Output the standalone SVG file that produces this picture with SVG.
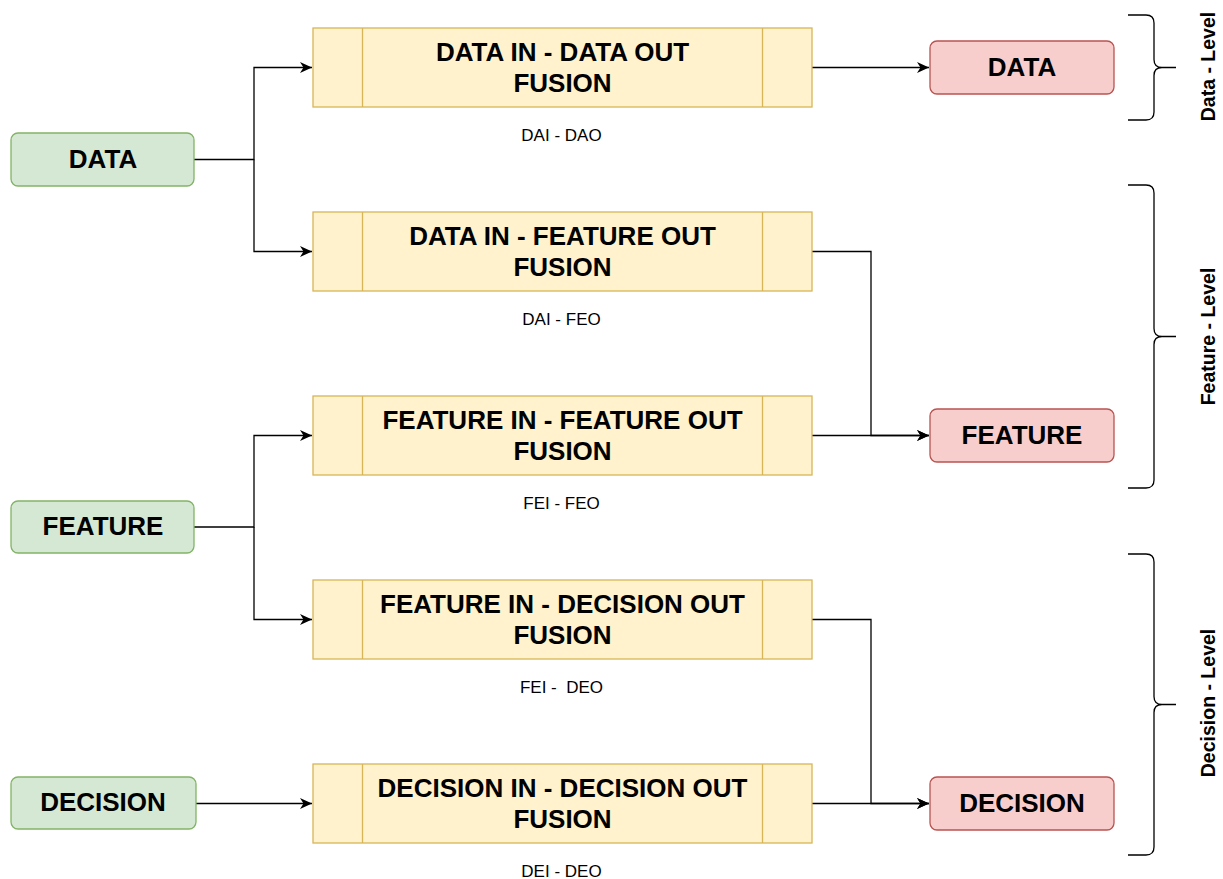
<svg xmlns="http://www.w3.org/2000/svg" width="1223" height="879" viewBox="0 0 1223 879">
<defs>
<style>
.in{fill:#d5e8d4;stroke:#82b366;stroke-width:1.3}
.pr{fill:#fff2cc;stroke:#d6b656;stroke-width:1.3}
.out{fill:#f8cecc;stroke:#b85450;stroke-width:1.3}
.t{font-family:"Liberation Sans",Arial,sans-serif;font-weight:bold;font-size:26px;text-anchor:middle;fill:#000}
.s{font-family:"Liberation Sans",Arial,sans-serif;font-size:17px;text-anchor:middle;fill:#000}
.lv{font-family:"Liberation Sans",Arial,sans-serif;font-weight:bold;font-size:19.5px;text-anchor:middle;fill:#000}
.c{fill:none;stroke:#000;stroke-width:1.3}
.br{fill:none;stroke:#000;stroke-width:1.3}
</style>
<marker id="ah" markerUnits="userSpaceOnUse" markerWidth="14" markerHeight="14" refX="12" refY="6" orient="auto">
<path d="M0,0.5 L12,6 L0,11.5 L3.5,6 Z" fill="#000"/>
</marker>
</defs>
<rect width="1223" height="879" fill="#fff"/>

<g id="connectors">
<path class="c" d="M194,159.5 H254 V67.5 H312" marker-end="url(#ah)"/>
<path class="c" d="M254,159.5 V251.5 H312" marker-end="url(#ah)"/>
<path class="c" d="M194,527 H254 V435.5 H312" marker-end="url(#ah)"/>
<path class="c" d="M254,527 V619.5 H312" marker-end="url(#ah)"/>
<path class="c" d="M196,803.5 H312" marker-end="url(#ah)"/>
<path class="c" d="M812,67.5 H929" marker-end="url(#ah)"/>
<path class="c" d="M812,251.5 H871 V435.5 H929" marker-end="url(#ah)"/>
<path class="c" d="M812,435.5 H929" marker-end="url(#ah)"/>
<path class="c" d="M812,619.5 H871 V803.5 H929" marker-end="url(#ah)"/>
<path class="c" d="M812,803.5 H929" marker-end="url(#ah)"/>
</g>

<g id="in-data"><rect class="in" x="11" y="133" width="183" height="53" rx="7"/><text class="t" x="103" y="167.5">DATA</text></g>
<g id="in-feature"><rect class="in" x="11" y="501" width="183" height="52" rx="7"/><text class="t" x="103" y="535">FEATURE</text></g>
<g id="in-decision"><rect class="in" x="11" y="777" width="185" height="52" rx="7"/><text class="t" x="103" y="811">DECISION</text></g>

<g id="p-dai-dao">
<rect class="pr" x="313" y="28" width="499" height="79"/><path class="pr" d="M362.5,28 V107 M762.5,28 V107"/>
<text class="t" x="562.5" y="60.5">DATA IN - DATA OUT</text><text class="t" x="562.5" y="91.5">FUSION</text>
<text class="s" x="561.5" y="141">DAI - DAO</text>
</g>
<g id="p-dai-feo">
<rect class="pr" x="313" y="212" width="499" height="79"/><path class="pr" d="M362.5,212 V291 M762.5,212 V291"/>
<text class="t" x="562.5" y="244.5">DATA IN - FEATURE OUT</text><text class="t" x="562.5" y="275.5">FUSION</text>
<text class="s" x="561.5" y="325">DAI - FEO</text>
</g>
<g id="p-fei-feo">
<rect class="pr" x="313" y="396" width="499" height="79"/><path class="pr" d="M362.5,396 V475 M762.5,396 V475"/>
<text class="t" x="562.5" y="428.5">FEATURE IN - FEATURE OUT</text><text class="t" x="562.5" y="459.5">FUSION</text>
<text class="s" x="561.5" y="509">FEI - FEO</text>
</g>
<g id="p-fei-deo">
<rect class="pr" x="313" y="580" width="499" height="79"/><path class="pr" d="M362.5,580 V659 M762.5,580 V659"/>
<text class="t" x="562.5" y="612.5">FEATURE IN - DECISION OUT</text><text class="t" x="562.5" y="643.5">FUSION</text>
<text class="s" x="561.5" y="693" xml:space="preserve">FEI -  DEO</text>
</g>
<g id="p-dei-deo">
<rect class="pr" x="313" y="764" width="499" height="79"/><path class="pr" d="M362.5,764 V843 M762.5,764 V843"/>
<text class="t" x="562.5" y="796.5">DECISION IN - DECISION OUT</text><text class="t" x="562.5" y="827.5">FUSION</text>
<text class="s" x="561.5" y="877">DEI - DEO</text>
</g>

<g id="out-data"><rect class="out" x="930" y="41" width="184" height="53" rx="7"/><text class="t" x="1022" y="75.5">DATA</text></g>
<g id="out-feature"><rect class="out" x="930" y="409" width="184" height="53" rx="7"/><text class="t" x="1022" y="443.5">FEATURE</text></g>
<g id="out-decision"><rect class="out" x="930" y="777" width="184" height="53" rx="7"/><text class="t" x="1022" y="811.5">DECISION</text></g>

<g id="level-data">
<path class="br" d="M1128,15 H1146 Q1154,15 1154,23 V59.5 Q1154,67.5 1162,67.5 H1176 M1162,67.5 Q1154,67.5 1154,75.5 V112 Q1154,120 1146,120 H1128"/>
<text class="lv" transform="translate(1215,66.5) rotate(-90)">Data - Level</text>
</g>
<g id="level-feature">
<path class="br" d="M1128,185 H1146 Q1154,185 1154,193 V328.5 Q1154,336.5 1162,336.5 H1176 M1162,336.5 Q1154,336.5 1154,344.5 V480 Q1154,488 1146,488 H1128"/>
<text class="lv" transform="translate(1215,336.5) rotate(-90)">Feature - Level</text>
</g>
<g id="level-decision">
<path class="br" d="M1128,554 H1146 Q1154,554 1154,562 V696.5 Q1154,704.5 1162,704.5 H1176 M1162,704.5 Q1154,704.5 1154,712.5 V847 Q1154,855 1146,855 H1128"/>
<text class="lv" transform="translate(1215,703) rotate(-90)">Decision - Level</text>
</g>
</svg>
